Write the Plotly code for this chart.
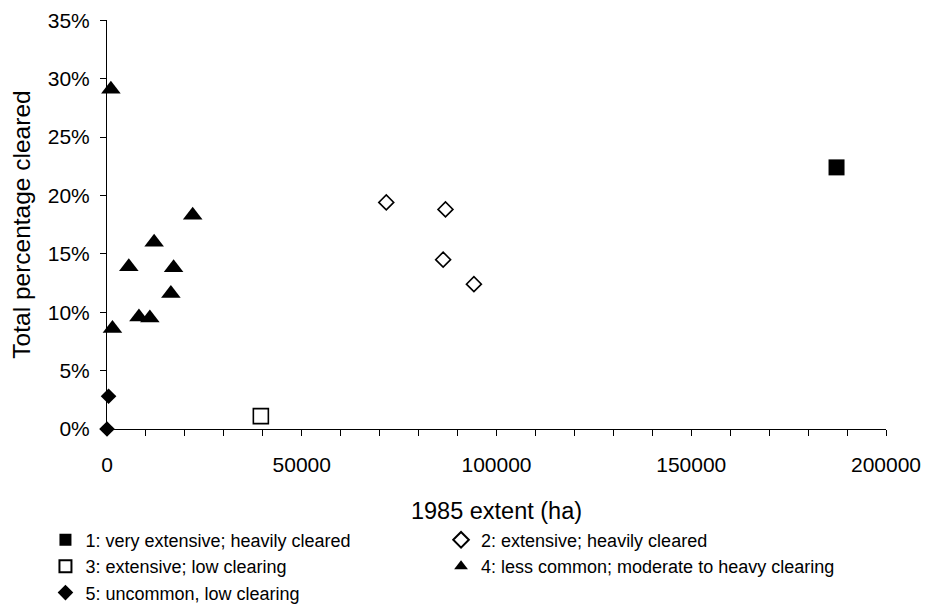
import plotly.graph_objects as go

# Data
g1_x = [187300]
g1_y = [0.224]
g2_x = [71700, 86900, 86300, 94200]
g2_y = [0.194, 0.188, 0.145, 0.124]
g3_x = [39500]
g3_y = [0.011]
g4_x = [1000, 22000, 12100, 5600, 17100, 16400, 8200, 11000, 1400]
g4_y = [0.291, 0.183, 0.160, 0.139, 0.138, 0.116, 0.096, 0.095, 0.086]
g5_x = [400, 0]
g5_y = [0.028, 0.0]

y_ticks = [0, 0.05, 0.10, 0.15, 0.20, 0.25, 0.30, 0.35]
x_ticks = [0, 50000, 100000, 150000, 200000]

names = [
    "1: very extensive; heavily cleared",
    "2: extensive; heavily cleared",
    "3: extensive; low clearing",
    "4: less common; moderate to heavy clearing",
    "5: uncommon, low clearing",
]

FONT = "Liberation Sans, Arial, sans-serif"

fig = go.Figure()
specs = [
    (g1_x, g1_y, names[0], "legend", dict(symbol="square", size=16, color="black", line=dict(color="black", width=0))),
    (g2_x, g2_y, names[1], "legend2", dict(symbol="diamond-open", size=11.5, color="black", line=dict(color="black", width=1.6))),
    (g3_x, g3_y, names[2], "legend", dict(symbol="square-open", size=15, color="black", line=dict(color="black", width=1.6))),
    (g4_x, g4_y, names[3], "legend2", dict(symbol="triangle-up", size=17, color="black")),
    (g5_x, g5_y, names[4], "legend", dict(symbol="diamond", size=12, color="black")),
]
for xs, ys, nm, lg, mk in specs:
    fig.add_trace(go.Scatter(x=xs, y=ys, mode="markers", name=nm, marker=mk,
                             cliponaxis=False, legend=lg))

legend_common = dict(
    orientation="v", yanchor="top", xanchor="left",
    font=dict(size=18, family=FONT), itemsizing="constant",
    bgcolor="rgba(0,0,0,0)",
)

# page body adds an 8px offset, so the figure is 8px smaller
fig.update_layout(
    width=922, height=606,
    paper_bgcolor="white", plot_bgcolor="white",
    margin=dict(l=99, r=44, t=12, b=185, autoexpand=False),
    font=dict(family=FONT, size=21, color="black"),
    showlegend=True,
    legend=dict(x=-0.079, y=-0.2264, **legend_common),
    legend2=dict(x=0.4288, y=-0.2264, **legend_common),
    xaxis=dict(
        range=[0, 200000], tickmode="array", tickvals=x_ticks,
        ticktext=[str(v) for v in x_ticks],
        showline=True, linecolor="black", linewidth=1,
        ticks="outside", ticklen=6, tickcolor="black",
        minor=dict(dtick=10000, ticks="outside", ticklen=6, tickcolor="black"),
        showgrid=False, zeroline=False, automargin=False,
        ticklabelstandoff=11, ticklabeloverflow="allow",
        title=dict(text="1985 extent (ha)", font=dict(size=23.5), standoff=27),
        tickfont=dict(size=21),
    ),
    yaxis=dict(
        range=[0, 0.3502], tickmode="array", tickvals=y_ticks,
        ticktext=[f"{round(v * 100)}%" for v in y_ticks],
        showline=True, linecolor="black", linewidth=1,
        ticks="outside", ticklen=6, tickcolor="black",
        showgrid=False, zeroline=False, automargin=False,
        ticklabelstandoff=6, ticklabeloverflow="allow",
        title=dict(text="Total percentage cleared", font=dict(size=24.5), standoff=20),
        tickfont=dict(size=21),
    ),
)

fig.write_html("out.html")
